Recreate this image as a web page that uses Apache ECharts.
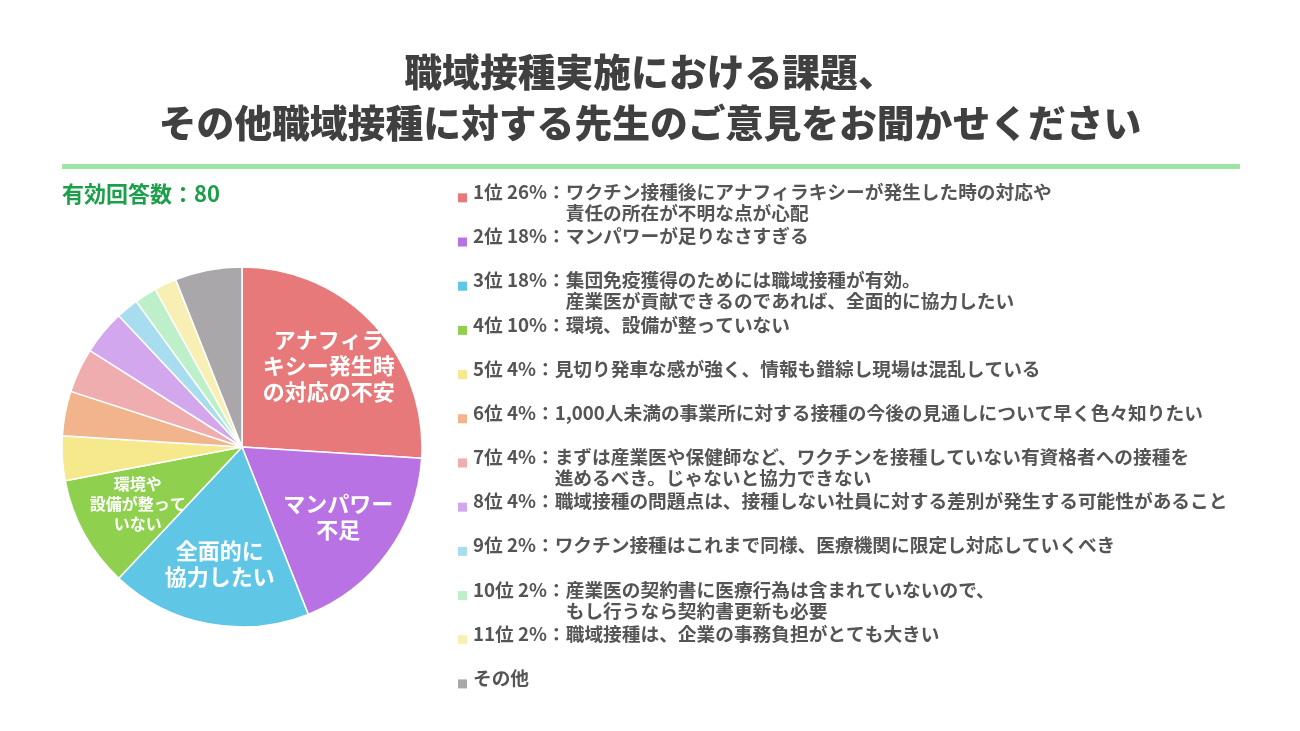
<!DOCTYPE html>
<html>
<head>
<meta charset="utf-8">
<script src="https://cdn.jsdelivr.net/npm/echarts@6/dist/echarts.min.js"></script>
<style>
html,body{margin:0;padding:0;background:#fff;}
#chart{width:1300px;height:731px;}
</style>
</head>
<body>
<div id="chart"></div>
<script>
const titleText = '職域接種実施における課題、\nその他職域接種に対する先生のご意見をお聞かせください';
const subtitleText = '有効回答数：80';
const ranks = ['1位','2位','3位','4位','5位','6位','7位','8位','9位','10位','11位',''];
const values = [26,18,18,10,4,4,4,4,2,2,2,6];
const answers = [
  ['ワクチン接種後にアナフィラキシーが発生した時の対応や','責任の所在が不明な点が心配'],
  ['マンパワーが足りなさすぎる'],
  ['集団免疫獲得のためには職域接種が有効。','産業医が貢献できるのであれば、全面的に協力したい'],
  ['環境、設備が整っていない'],
  ['見切り発車な感が強く、情報も錯綜し現場は混乱している'],
  ['1,000人未満の事業所に対する接種の今後の見通しについて早く色々知りたい'],
  ['まずは産業医や保健師など、ワクチンを接種していない有資格者への接種を','進めるべき。じゃないと協力できない'],
  ['職域接種の問題点は、接種しない社員に対する差別が発生する可能性があること'],
  ['ワクチン接種はこれまで同様、医療機関に限定し対応していくべき'],
  ['産業医の契約書に医療行為は含まれていないので、','もし行うなら契約書更新も必要'],
  ['職域接種は、企業の事務負担がとても大きい'],
  ['その他']
];
const sliceLabels = ['アナフィラ\nキシー発生時\nの対応の不安','マンパワー\n不足','全面的に\n協力したい','環境や\n設備が整って\nいない','','','','','','','',''];
const colors = ['#E8797A','#B972E3','#5FC6E6','#8FD14F','#F5E88D','#F2B48D','#F0ADAF','#D3A7EE','#A7DDEE','#BDF0C8','#F7EFB4','#A9A7A9'];

const FONT = '"Noto Sans CJK JP","Noto Sans",sans-serif';
const names = answers.map(a => a[0]);
const prefix = i => ranks[i] ? ranks[i] + ' ' + values[i] + '%：' : '';

const rich = {
  b: {width: 9, height: 9},
  g: {width: 6},
  t: {fontSize: 18.7, lineHeight: 21, color: '#555555', fontWeight: 'bold', fontFamily: FONT},
  h: {fontSize: 18.7, lineHeight: 21, color: 'rgba(0,0,0,0)', fontWeight: 'bold', fontFamily: FONT}
};
colors.forEach((c, i) => {
  rich['s' + i] = {width: 9, height: 9, backgroundColor: c, verticalAlign: 'bottom'};
});

const pieData = names.map((n, i) => ({name: n, value: values[i], itemStyle: {color: colors[i]}}));
const labelData = names.map((n, i) => ({
  name: n, value: values[i],
  label: i === 3 ? {fontSize: 16, lineHeight: 20} : {}
}));

const chart = echarts.init(document.getElementById('chart'));
chart.setOption({
  animation: false,
  backgroundColor: '#ffffff',
  title: [
    {
      text: titleText, left: 'center', top: 41,
      textStyle: {fontSize: 37.8, lineHeight: 51, fontWeight: 900, color: '#404040', fontFamily: FONT}
    },
    {
      text: subtitleText, left: 62, top: 183, padding: 0,
      textStyle: {fontSize: 22, fontWeight: 'bold', color: '#1B9F4A', fontFamily: FONT}
    }
  ],
  graphic: [
    {type: 'rect', shape: {x: 62, y: 164, width: 1178, height: 5}, style: {fill: '#9BE6A4'}, silent: true}
  ],
  legend: {
    orient: 'vertical', left: 447, top: 177.5, itemGap: 4.5,
    itemWidth: 0, itemHeight: 0, icon: 'rect',
    selectedMode: false,
    data: names,
    formatter: function (name) {
      const i = names.indexOf(name);
      const a = answers[i];
      const p = prefix(i);
      const l1 = '{s' + i + '|}{g|}{t|' + p + a[0] + '}';
      const l2 = a[1] ? '{b|}{g|}{h|' + p + '}{t|' + a[1] + '}' : '{t| }';
      return l1 + '\n' + l2;
    },
    textStyle: {rich: rich, fontFamily: FONT}
  },
  series: [
    {
      type: 'pie', center: [242, 447], radius: [0, 180],
      startAngle: 90, clockwise: true, silent: true,
      emphasis: {disabled: true},
      itemStyle: {borderColor: '#ffffff', borderWidth: 1.5},
      label: {show: false}, labelLine: {show: false},
      data: pieData
    },
    {
      type: 'pie', center: [242, 447], radius: [52, 180],
      startAngle: 90, clockwise: true, silent: true,
      emphasis: {disabled: true},
      itemStyle: {color: 'rgba(0,0,0,0)', borderWidth: 0},
      label: {
        show: true, position: 'inside', color: '#ffffff', fontWeight: 'bold',
        fontSize: 22, lineHeight: 26, fontFamily: FONT,
        formatter: p => sliceLabels[p.dataIndex]
      },
      labelLine: {show: false},
      data: labelData
    }
  ]
});
</script>
</body>
</html>
